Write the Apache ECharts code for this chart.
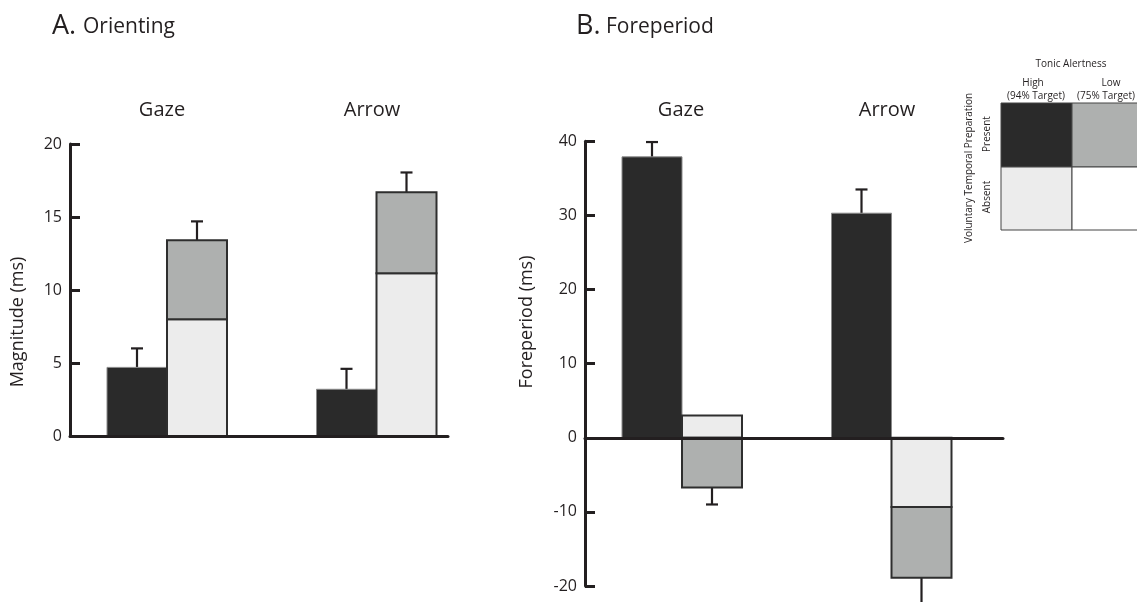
<!DOCTYPE html>
<html>
<head>
<meta charset="utf-8">
<script src="https://cdn.jsdelivr.net/npm/echarts@6/dist/echarts.min.js"></script>
<style>
html,body{margin:0;padding:0;background:#fff;}
#chart{width:1137px;height:602px;}
</style>
</head>
<body>
<div id="chart"></div>
<script>
// ---- Data ----
const groups = ['Gaze', 'Arrow'];
// Panel A: Orienting (ms)
const orientHighPresent = [4.7, 3.2];
const orientHighAbsent = [8.0, 11.15];
const orientLowPresent = [5.4, 5.55];
const orientErrHigh = [1.3, 1.4];
const orientErrStack = [1.3, 1.35];
// Panel B: Foreperiod (ms)
const foreHighPresent = [37.9, 30.3];
const foreHighAbsent = [3.0, -9.35];
const foreLowPresent = [-6.7, -9.55];
const foreErrHigh = [2.0, 3.2];
const foreErrStack = [2.3, 3.7];
// Tick labels
const orientTicks = [0, 5, 10, 15, 20];
const foreTicks = [-20, -10, 0, 10, 20, 30, 40];

// ---- Layout (not data) ----
const FONT = '"Open Sans", "Liberation Sans", sans-serif';
const INK = '#231f20';
const C_BLACK = '#2a2a2a', C_GRAY = '#aeb0af', C_LIGHT = '#ececec';
const BAR_W = 60;
const groupCenters = [97, 306.5]; // x-axis units (axis measured from the y-axis)

function xs(offset) { return groupCenters.map(c => c + offset); }

// rect items: [xCenter, yFrom, yTo]
function rectSeries(gi, items, color, border, borderW, z) {
  return {
    type: 'custom', xAxisIndex: gi, yAxisIndex: gi, silent: true, z: z || 2,
    encode: { x: 0, y: [1, 2] },
    data: items,
    renderItem: function (params, api) {
      const x = api.value(0);
      const p0 = api.coord([x - BAR_W / 2, api.value(1)]);
      const p1 = api.coord([x + BAR_W / 2, api.value(2)]);
      return {
        type: 'rect',
        shape: { x: Math.min(p0[0], p1[0]), y: Math.min(p0[1], p1[1]),
                 width: Math.abs(p1[0] - p0[0]), height: Math.abs(p1[1] - p0[1]) },
        style: { fill: color, stroke: border, lineWidth: borderW }
      };
    }
  };
}

function stackBases(first, second) {
  // same-sign stacking: second sits on first only if it has the same sign
  return first.map((v, i) => (Math.sign(v) === Math.sign(second[i]) ? v : 0));
}

function panelBars(gi, hp, ha, lp) {
  const xh = xs(-BAR_W / 2), xst = xs(BAR_W / 2);
  const base = stackBases(ha, lp);
  return [
    rectSeries(gi, hp.map((v, i) => [xh[i], 0, v]), C_BLACK, '#8a8a8a', 1, 2),
    rectSeries(gi, ha.map((v, i) => [xst[i], 0, v]), C_LIGHT, '#2e2e2e', 2, 3),
    rectSeries(gi, lp.map((v, i) => [xst[i], base[i], base[i] + v]), C_GRAY, '#2e2e2e', 2, 4)
  ];
}

function errorData(hp, ha, lp, eh, es) {
  const out = [];
  const xh = xs(-BAR_W / 2), xst = xs(BAR_W / 2);
  const base = stackBases(ha, lp);
  for (let i = 0; i < hp.length; i++) {
    const s1 = Math.sign(hp[i]);
    out.push([xh[i], hp[i], hp[i] + s1 * eh[i]]);
    const end = base[i] + lp[i];
    const s2 = Math.sign(end);
    out.push([xst[i], end, end + s2 * es[i]]);
  }
  return out;
}

function errorSeries(gi, data) {
  return {
    type: 'custom', xAxisIndex: gi, yAxisIndex: gi, silent: true, z: 1,
    encode: { x: 0, y: [1, 2] },
    data: data,
    renderItem: function (params, api) {
      const p0 = api.coord([api.value(0), api.value(1)]);
      const p1 = api.coord([api.value(0), api.value(2)]);
      return {
        type: 'group',
        children: [
          { type: 'line', shape: { x1: p0[0], y1: p0[1], x2: p1[0], y2: p1[1] },
            style: { stroke: INK, lineWidth: 2.2 } },
          { type: 'line', shape: { x1: p1[0] - 6, y1: p1[1], x2: p1[0] + 6, y2: p1[1] },
            style: { stroke: INK, lineWidth: 2.2 } }
        ]
      };
    }
  };
}

function yAxisDef(gi, ticks, interval) {
  return {
    type: 'value', gridIndex: gi,
    min: ticks[0], max: ticks[ticks.length - 1], interval: interval,
    axisLine: { show: true, lineStyle: { color: INK, width: 3 } },
    axisTick: { show: true, inside: true, length: 10, lineStyle: { color: INK, width: 3 } },
    axisLabel: { color: INK, fontSize: 16, fontFamily: FONT, margin: 8 },
    splitLine: { show: false }, z: 10
  };
}
function xAxisDef(gi, maxv) {
  return {
    type: 'value', gridIndex: gi, min: 0, max: maxv,
    axisLine: { show: true, onZero: true, lineStyle: { color: INK, width: 3 } },
    axisTick: { show: false }, axisLabel: { show: false }, splitLine: { show: false }, z: 10
  };
}

const txt = (x, y, text, size, opts) => Object.assign({
  type: 'text', x: x, y: y, silent: true,
  style: Object.assign({ text: text, fill: INK, font: size + 'px ' + FONT,
    textAlign: 'center', textVerticalAlign: 'middle' }, (opts && opts.style) || {})
}, (opts && opts.el) || {});

const legendRects = [
  { x: 1001, y: 103, w: 71, h: 64, c: C_BLACK },
  { x: 1072, y: 103, w: 66, h: 64, c: C_GRAY },
  { x: 1001, y: 167, w: 71, h: 63, c: C_LIGHT },
  { x: 1072, y: 167, w: 66, h: 63, c: '#ffffff' }
].map(r => ({ type: 'rect', silent: true, shape: { x: r.x, y: r.y, width: r.w, height: r.h },
  style: { fill: r.c, stroke: '#444', lineWidth: 1 } }));

const option = {
  animation: false,
  backgroundColor: '#ffffff',
  grid: [
    { left: 70, top: 144, width: 378, height: 292 },
    { left: 585, top: 141.3, width: 418, height: 444.7 }
  ],
  xAxis: [xAxisDef(0, 378), xAxisDef(1, 418)],
  yAxis: [yAxisDef(0, orientTicks, 5), yAxisDef(1, foreTicks, 10)],
  series: [
    ...panelBars(0, orientHighPresent, orientHighAbsent, orientLowPresent),
    errorSeries(0, errorData(orientHighPresent, orientHighAbsent, orientLowPresent, orientErrHigh, orientErrStack)),
    ...panelBars(1, foreHighPresent, foreHighAbsent, foreLowPresent),
    errorSeries(1, errorData(foreHighPresent, foreHighAbsent, foreLowPresent, foreErrHigh, foreErrStack))
  ],
  graphic: [
    // panel titles
    { type: 'text', left: 52, top: 13, silent: true, style: { text: 'A.', fill: INK, font: '27px ' + FONT } },
    { type: 'text', left: 83, top: 17, silent: true, style: { text: 'Orienting', fill: INK, font: '21px ' + FONT } },
    { type: 'text', left: 576, top: 13, silent: true, style: { text: 'B.', fill: INK, font: '27px ' + FONT } },
    { type: 'text', left: 606, top: 17, silent: true, style: { text: 'Foreperiod', fill: INK, font: '21px ' + FONT } },
    // group labels
    txt(162, 110, groups[0], 20), txt(372, 110, groups[1], 20),
    txt(681, 110, groups[0], 20), txt(887, 110, groups[1], 20),
    // axis names
    txt(18, 322, 'Magnitude (ms)', 18, { el: { rotation: Math.PI / 2 } }),
    txt(527, 322, 'Foreperiod (ms)', 18, { el: { rotation: Math.PI / 2 } }),
    // legend inset
    ...legendRects,
    txt(1071, 64, 'Tonic Alertness', 10),
    txt(1033, 83, 'High', 10), txt(1036, 96, '(94% Target)', 10),
    txt(1111, 83, 'Low', 10), txt(1106, 96, '(75% Target)', 10),
    txt(969, 168, 'Voluntary Temporal Preparation', 10, { el: { rotation: Math.PI / 2 } }),
    txt(987, 134, 'Present', 10, { el: { rotation: Math.PI / 2 } }),
    txt(987, 197, 'Absent', 10, { el: { rotation: Math.PI / 2 } })
  ]
};

const chart = echarts.init(document.getElementById('chart'), null, { renderer: 'canvas' });
chart.setOption(option);
</script>
</body>
</html>
